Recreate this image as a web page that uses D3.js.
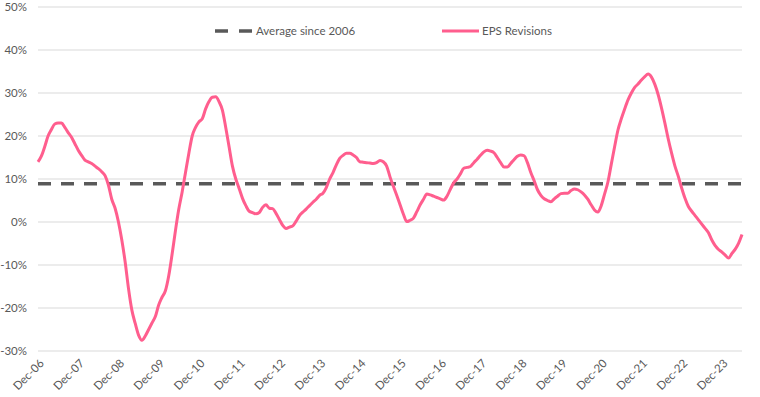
<!DOCTYPE html>
<html>
<head>
<meta charset="utf-8">
<script src="https://cdn.jsdelivr.net/npm/d3@7"></script>
<style>
  body { margin: 0; background: #fff; }
  text { font-family: Lato, "Open Sans", sans-serif; fill: #595959; }
</style>
</head>
<body>
<svg id="chart" width="760" height="397"></svg>
<script>
// monthly EPS revisions (%), Dec-06 .. Jun-24, one row per 12 months
var eps_revisions = [
  14.0, 15.3, 17.5, 20.0, 21.5, 22.8, 23.0, 23.0, 22.0, 20.8, 19.7, 18.2,
  16.7, 15.5, 14.4, 14.0, 13.6, 13.0, 12.4, 11.7, 10.8, 8.6, 5.3, 3.2,
  0.0, -4.2, -9.3, -15.5, -20.5, -23.6, -26.3, -27.5, -26.5, -25.0, -23.5, -22.0,
  -19.3, -17.5, -16.0, -12.5, -7.5, -2.0, 3.0, 7.0, 11.5, 16.0, 20.0, 22.0,
  23.3, 24.0, 26.3, 28.0, 29.0, 29.1, 28.0, 26.0, 22.0, 17.5, 13.0, 10.0,
  7.8, 5.5, 3.8, 2.5, 2.2, 1.9, 2.2, 3.4, 4.0, 3.2, 3.1, 2.0,
  0.6, -0.8, -1.5, -1.2, -0.9, 0.2, 1.5, 2.3, 3.0, 3.8, 4.6, 5.3,
  6.2, 6.7, 8.0, 10.0, 11.5, 13.3, 14.8, 15.5, 16.0, 16.0, 15.6, 15.0,
  14.0, 13.9, 13.8, 13.7, 13.6, 13.8, 14.3, 14.0, 13.0, 10.5, 8.3, 6.2,
  4.0, 1.8, 0.1, 0.4, 0.9, 2.4, 4.0, 5.3, 6.5, 6.3, 6.0, 5.7,
  5.4, 5.1, 6.0, 7.6, 9.1, 10.0, 11.2, 12.5, 12.7, 12.9, 13.8, 14.6,
  15.5, 16.3, 16.7, 16.5, 16.1, 15.0, 13.8, 12.8, 12.8, 13.6, 14.5, 15.3,
  15.6, 15.4, 13.8, 11.5, 9.6, 7.5, 6.2, 5.4, 5.0, 4.7, 5.4, 6.0,
  6.6, 6.7, 6.7, 7.3, 7.7, 7.5, 7.0, 6.3, 5.3, 4.0, 2.8, 2.3,
  3.8, 6.5, 9.3, 13.4, 17.5, 21.4, 24.0, 26.3, 28.4, 30.0, 31.3, 32.1,
  33.0, 33.8, 34.4, 33.7, 32.0, 29.6, 26.5, 23.0, 19.3, 16.0, 13.0, 10.6,
  7.9, 5.5, 3.6, 2.5, 1.5, 0.5, -0.5, -1.5, -2.5, -4.2, -5.5, -6.4,
  -7.0, -7.7, -8.4, -7.3, -6.3, -4.9, -2.9
];
var average_since_2006 = 8.9;
var y_ticks = [-30, -20, -10, 0, 10, 20, 30, 40, 50];
var series_names = ["Average since 2006", "EPS Revisions"];

// month categories Dec-06 .. Jun-24
var months = d3.utcMonth.range(new Date(Date.UTC(2006, 11, 1)), new Date(Date.UTC(2024, 6, 1)));
var fmt = d3.utcFormat("%b-%y");
var categories = months.map(fmt);
var x_labels = categories.filter(function (c) { return c.slice(0, 3) == "Dec"; });

var margin = { top: 7, right: 18, bottom: 46, left: 38 },
    width = 760 - margin.left - margin.right,
    height = 397 - margin.top - margin.bottom;

var xScale = d3.scalePoint().domain(categories).range([0, width]);
var yScale = d3.scaleLinear().domain([-30, 50]).range([height, 0]);

var svg = d3.select("#chart")
  .append("g")
  .attr("transform", "translate(" + margin.left + "," + margin.top + ")");

// gridlines
svg.append("g")
  .selectAll("line")
  .data(y_ticks)
  .enter()
  .append("line")
  .attr("x1", 0)
  .attr("x2", width)
  .attr("y1", function (d) { return yScale(d); })
  .attr("y2", function (d) { return yScale(d); })
  .attr("stroke", "#d9d9d9")
  .attr("stroke-width", 1);

// y axis labels
var yAxis = d3.axisLeft(yScale).tickValues(y_ticks).tickSize(0).tickPadding(11)
  .tickFormat(function (d) { return d + "%"; });
svg.append("g").attr("class", "y axis").call(yAxis)
  .call(function (g) { g.select(".domain").remove(); })
  .selectAll("text")
  .style("font-size", "11.5px")
  .attr("fill", "#595959");

// x axis labels
var xAxis = d3.axisBottom(xScale).tickValues(x_labels).tickSize(0);
svg.append("g").attr("class", "x axis")
  .attr("transform", "translate(0," + height + ")")
  .call(xAxis)
  .call(function (g) { g.select(".domain").remove(); })
  .selectAll("text")
  .style("font-size", "11.5px")
  .attr("fill", "#595959")
  .style("text-anchor", "end")
  .attr("dx", 0)
  .attr("dy", 0)
  .attr("transform", "translate(4,11) rotate(-45)");

// average line
svg.append("line")
  .attr("x1", 0)
  .attr("x2", width)
  .attr("y1", yScale(average_since_2006))
  .attr("y2", yScale(average_since_2006))
  .attr("stroke", "#595959")
  .attr("stroke-width", 3.5)
  .attr("stroke-dasharray", "13,10");

// EPS line
var line = d3.line()
  .curve(d3.curveMonotoneX)
  .x(function (d, i) { return xScale(categories[i]); })
  .y(function (d) { return yScale(d); });

svg.append("path")
  .datum(eps_revisions)
  .attr("d", line)
  .attr("fill", "none")
  .attr("stroke", "#ff5e8e")
  .attr("stroke-width", 3)
  .attr("stroke-linejoin", "round");

// legend
var legend = d3.select("#chart").append("g");
legend.append("line")
  .attr("x1", 215).attr("x2", 252).attr("y1", 31).attr("y2", 31)
  .attr("stroke", "#595959").attr("stroke-width", 3.5)
  .attr("stroke-dasharray", "13,11");
legend.append("text")
  .attr("x", 256).attr("y", 31).attr("dy", "0.35em")
  .style("font-size", "11.5px")
  .text(series_names[0]);
legend.append("line")
  .attr("x1", 442).attr("x2", 479).attr("y1", 31).attr("y2", 31)
  .attr("stroke", "#ff5e8e").attr("stroke-width", 3);
legend.append("text")
  .attr("x", 482).attr("y", 31).attr("dy", "0.35em")
  .style("font-size", "11.5px")
  .text(series_names[1]);
</script>
</body>
</html>
